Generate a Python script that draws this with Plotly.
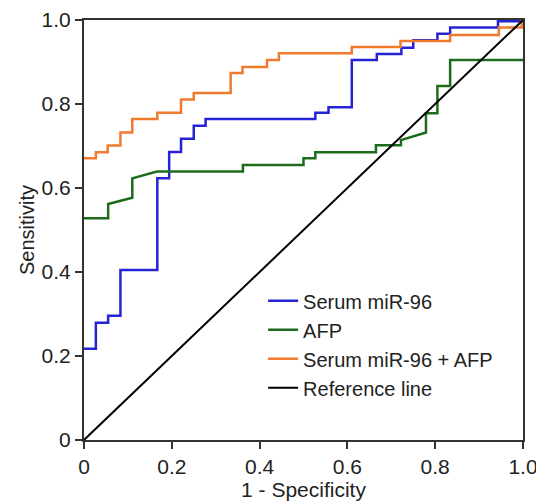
import plotly.graph_objects as go

# Serum miR-96 ROC (step corners, hv)
mir_fpr = [0.0, 0.027, 0.055, 0.083, 0.167, 0.194, 0.221, 0.25, 0.277, 0.527, 0.557, 0.61, 0.667, 0.723, 0.75, 0.805, 0.834, 0.943, 1.0]
mir_tpr = [0.217, 0.279, 0.296, 0.405, 0.623, 0.686, 0.717, 0.748, 0.764, 0.779, 0.792, 0.905, 0.919, 0.934, 0.952, 0.967, 0.982, 0.997, 0.997]

# AFP ROC (explicit vertices, linear)
afp_fpr = [0.0, 0.055, 0.055, 0.11, 0.11, 0.166, 0.362, 0.362, 0.5, 0.5, 0.527, 0.527, 0.665, 0.665, 0.722, 0.722, 0.779, 0.779, 0.805, 0.805, 0.834, 0.834, 1.0]
afp_tpr = [0.528, 0.528, 0.562, 0.577, 0.623, 0.639, 0.639, 0.655, 0.655, 0.671, 0.671, 0.685, 0.685, 0.702, 0.702, 0.714, 0.732, 0.778, 0.778, 0.843, 0.843, 0.905, 0.905]

# Combined ROC (step corners, hv)
comb_fpr = [0.0, 0.027, 0.054, 0.083, 0.11, 0.167, 0.221, 0.25, 0.334, 0.361, 0.417, 0.444, 0.61, 0.721, 0.834, 0.945, 0.997]
comb_tpr = [0.671, 0.685, 0.701, 0.732, 0.764, 0.779, 0.811, 0.826, 0.874, 0.888, 0.905, 0.921, 0.936, 0.95, 0.964, 0.982, 1.0]

ref_x = [0, 1]
ref_y = [0, 1]

tick_vals = [0, 0.2, 0.4, 0.6, 0.8, 1.0]
tick_text = ["0", "0.2", "0.4", "0.6", "0.8", "1.0"]

FONT = "Arial, Liberation Sans, sans-serif"

fig = go.Figure()
fig.add_trace(go.Scatter(x=mir_fpr, y=mir_tpr, mode="lines", line=dict(color="#2424d6", width=2.5, shape="hv"),
                         name="Serum miR-96"))
fig.add_trace(go.Scatter(x=afp_fpr, y=afp_tpr, mode="lines", line=dict(color="#1d6b1d", width=2.5),
                         name="AFP"))
fig.add_trace(go.Scatter(x=comb_fpr, y=comb_tpr, mode="lines", line=dict(color="#f07a2e", width=2.5, shape="hv"),
                         name="Serum miR-96 + AFP"))
fig.add_trace(go.Scatter(x=ref_x, y=ref_y, mode="lines", line=dict(color="black", width=2),
                         name="Reference line"))

axis_common = dict(
    range=[0, 1], showgrid=False, zeroline=False, showline=True, linecolor="#333333", linewidth=2,
    mirror=True, ticks="outside", ticklen=7, tickwidth=1.5, tickcolor="#333333", automargin=False,
    tickvals=tick_vals, ticktext=tick_text, tickfont=dict(family=FONT, size=21, color="#222"),
)

fig.update_layout(
    width=536, height=493,
    margin=dict(l=76, r=21, t=12, b=61),
    plot_bgcolor="white", paper_bgcolor="white",
    font=dict(family=FONT, size=21, color="#222"),
    xaxis=dict(axis_common, title=dict(text="1 - Specificity", font=dict(family=FONT, size=21), standoff=2)),
    yaxis=dict(axis_common, title=dict(text="Sensitivity", font=dict(family=FONT, size=20), standoff=2)),
    legend=dict(x=0.408, y=0.378, xanchor="left", yanchor="top", bgcolor="rgba(0,0,0,0)",
                font=dict(family=FONT, size=20, color="#222"), tracegroupgap=0),
    showlegend=True,
)

fig.write_html("out.html")
